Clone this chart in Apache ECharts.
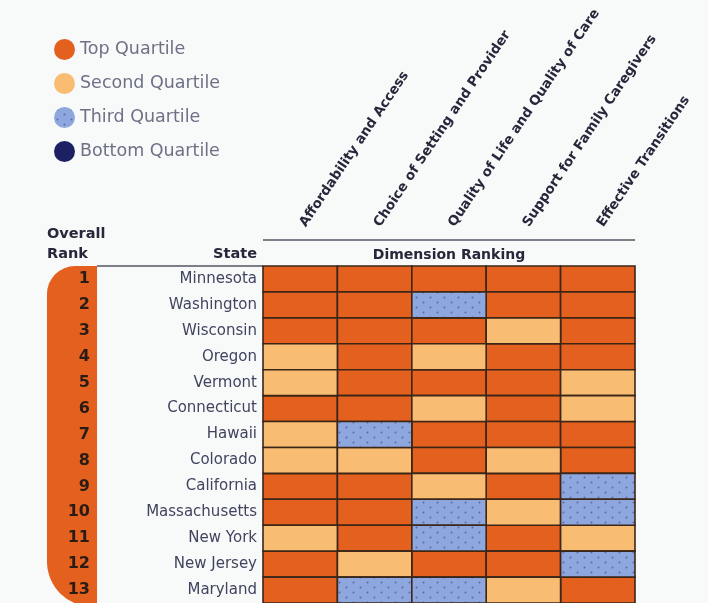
<!DOCTYPE html>
<html>
<head>
<meta charset="utf-8">
<script src="https://cdn.jsdelivr.net/npm/echarts@6/dist/echarts.min.js"></script>
<style>
  html, body { margin: 0; padding: 0; background: #f8f9f9; }
  #chart { width: 708px; height: 603px; }
</style>
</head>
<body>
<div id="chart"></div>
<script>
// Dimension columns
const dimensions = [
  'Affordability and Access',
  'Choice of Setting and Provider',
  'Quality of Life and Quality of Care',
  'Support for Family Caregivers',
  'Effective Transitions'
];

// States in overall rank order
const states = [
  'Minnesota', 'Washington', 'Wisconsin', 'Oregon', 'Vermont', 'Connecticut',
  'Hawaii', 'Colorado', 'California', 'Massachusetts', 'New York', 'New Jersey', 'Maryland'
];
const ranks = ['1', '2', '3', '4', '5', '6', '7', '8', '9', '10', '11', '12', '13'];

// Quartile per state (1 = top ... 4 = bottom), one array per dimension
const affordability = [1, 1, 1, 2, 2, 1, 2, 2, 1, 1, 2, 1, 1];
const choice        = [1, 1, 1, 1, 1, 1, 3, 2, 1, 1, 1, 2, 3];
const quality       = [1, 3, 1, 2, 1, 2, 1, 1, 2, 3, 3, 1, 3];
const support       = [1, 1, 2, 1, 1, 1, 1, 2, 1, 2, 1, 1, 2];
const transitions   = [1, 1, 1, 1, 2, 2, 1, 1, 3, 3, 2, 3, 1];

const quartileNames = ['Top Quartile', 'Second Quartile', 'Third Quartile', 'Bottom Quartile'];

const dimensionValues = [affordability, choice, quality, support, transitions];

// Dotted fill used for the third quartile
function dotPattern() {
  const c = document.createElement('canvas');
  c.width = 14; c.height = 10;
  const g = c.getContext('2d');
  g.fillStyle = '#8ea8df';
  g.fillRect(0, 0, 14, 10);
  g.fillStyle = '#5a6ca6';
  [[3.5, 2.5], [10.5, 7.5]].forEach(function (p) {
    g.beginPath();
    g.arc(p[0], p[1], 1, 0, Math.PI * 2);
    g.fill();
  });
  return { image: c, repeat: 'repeat' };
}

const quartileColors = ['#e4601f', '#f8bd73', dotPattern(), '#1c2163'];

function cellsFor(q) {
  const out = [];
  dimensionValues.forEach(function (arr, d) {
    arr.forEach(function (v, s) { if (v === q) out.push([d, s]); });
  });
  return out;
}

function renderCell(params, api) {
  const c = api.coord([api.value(0), api.value(1)]);
  const sz = api.size([1, 1]);
  return {
    type: 'rect',
    shape: { x: c[0] - sz[0] / 2, y: c[1] - sz[1] / 2, width: sz[0], height: sz[1] },
    style: { fill: api.visual('color'), stroke: '#3b2618', lineWidth: 1.6 }
  };
}

const FONT = 'DejaVu Sans';
const GRID_LEFT = 263, GRID_TOP = 266, GRID_W = 372, ROW_H = 26.2;

const chart = echarts.init(document.getElementById('chart'));
chart.setOption({
  backgroundColor: '#f8f9f9',
  animation: false,
  textStyle: { fontFamily: FONT },
  legend: {
    orient: 'vertical',
    left: 49,
    top: 34,
    icon: 'circle',
    itemWidth: 21,
    itemHeight: 21,
    itemGap: 13,
    textStyle: { color: '#6e7186', fontSize: 17.5, fontFamily: FONT },
    data: quartileNames
  },
  grid: { left: GRID_LEFT, top: GRID_TOP, width: GRID_W, height: ROW_H * states.length },
  xAxis: {
    type: 'category',
    position: 'top',
    data: dimensions,
    axisLine: { show: false },
    axisTick: { show: false },
    splitLine: { show: false },
    axisLabel: {
      rotate: -56,
      margin: 24,
      padding: [0, 0, 0, 15],
      align: 'left',
      verticalAlign: 'bottom',
      interval: 0,
      color: '#26273a',
      fontSize: 13.5,
      fontWeight: 'bold',
      fontFamily: FONT
    }
  },
  yAxis: [
    {
      type: 'category',
      data: states,
      inverse: true,
      axisLine: { show: false },
      axisTick: { show: false },
      axisLabel: { margin: 6, color: '#41445f', fontSize: 15, fontFamily: FONT }
    },
    {
      type: 'category',
      data: ranks,
      inverse: true,
      position: 'left',
      offset: 166,
      axisLine: { show: false },
      axisTick: { show: false },
      axisLabel: { margin: 7, color: '#2a1c14', fontSize: 16, fontWeight: 'bold', fontFamily: FONT }
    }
  ],
  graphic: [
    // Orange rank column
    {
      type: 'rect', z: -1,
      shape: { x: 47, y: GRID_TOP, width: 50, height: ROW_H * states.length, r: [28, 0, 0, 45] },
      style: { fill: '#e4601f' }
    },
    // Rule under the column headers
    {
      type: 'line',
      shape: { x1: GRID_LEFT, y1: 240, x2: GRID_LEFT + GRID_W, y2: 240 },
      style: { stroke: '#555560', lineWidth: 1.5 }
    },
    // Rule above the table body
    {
      type: 'line',
      shape: { x1: 97, y1: GRID_TOP, x2: GRID_LEFT, y2: GRID_TOP },
      style: { stroke: '#555560', lineWidth: 1.5 }
    },
    {
      type: 'text', x: GRID_LEFT + GRID_W / 2, y: 255,
      style: { text: 'Dimension Ranking', fill: '#26273a', font: 'bold 14px "DejaVu Sans"', align: 'center', verticalAlign: 'middle' }
    },
    {
      type: 'text', x: 257, y: 254,
      style: { text: 'State', fill: '#26273a', font: 'bold 14.5px "DejaVu Sans"', align: 'right', verticalAlign: 'middle' }
    },
    {
      type: 'text', x: 47, y: 244,
      style: { text: 'Overall\nRank', fill: '#26273a', font: 'bold 14.5px "DejaVu Sans"', align: 'left', verticalAlign: 'middle', lineHeight: 20 }
    }
  ],
  series: quartileNames.map(function (name, i) {
    return {
      name: name,
      type: 'custom',
      renderItem: renderCell,
      itemStyle: { color: quartileColors[i] },
      encode: { x: 0, y: 1 },
      data: cellsFor(i + 1)
    };
  })
});
</script>
</body>
</html>
